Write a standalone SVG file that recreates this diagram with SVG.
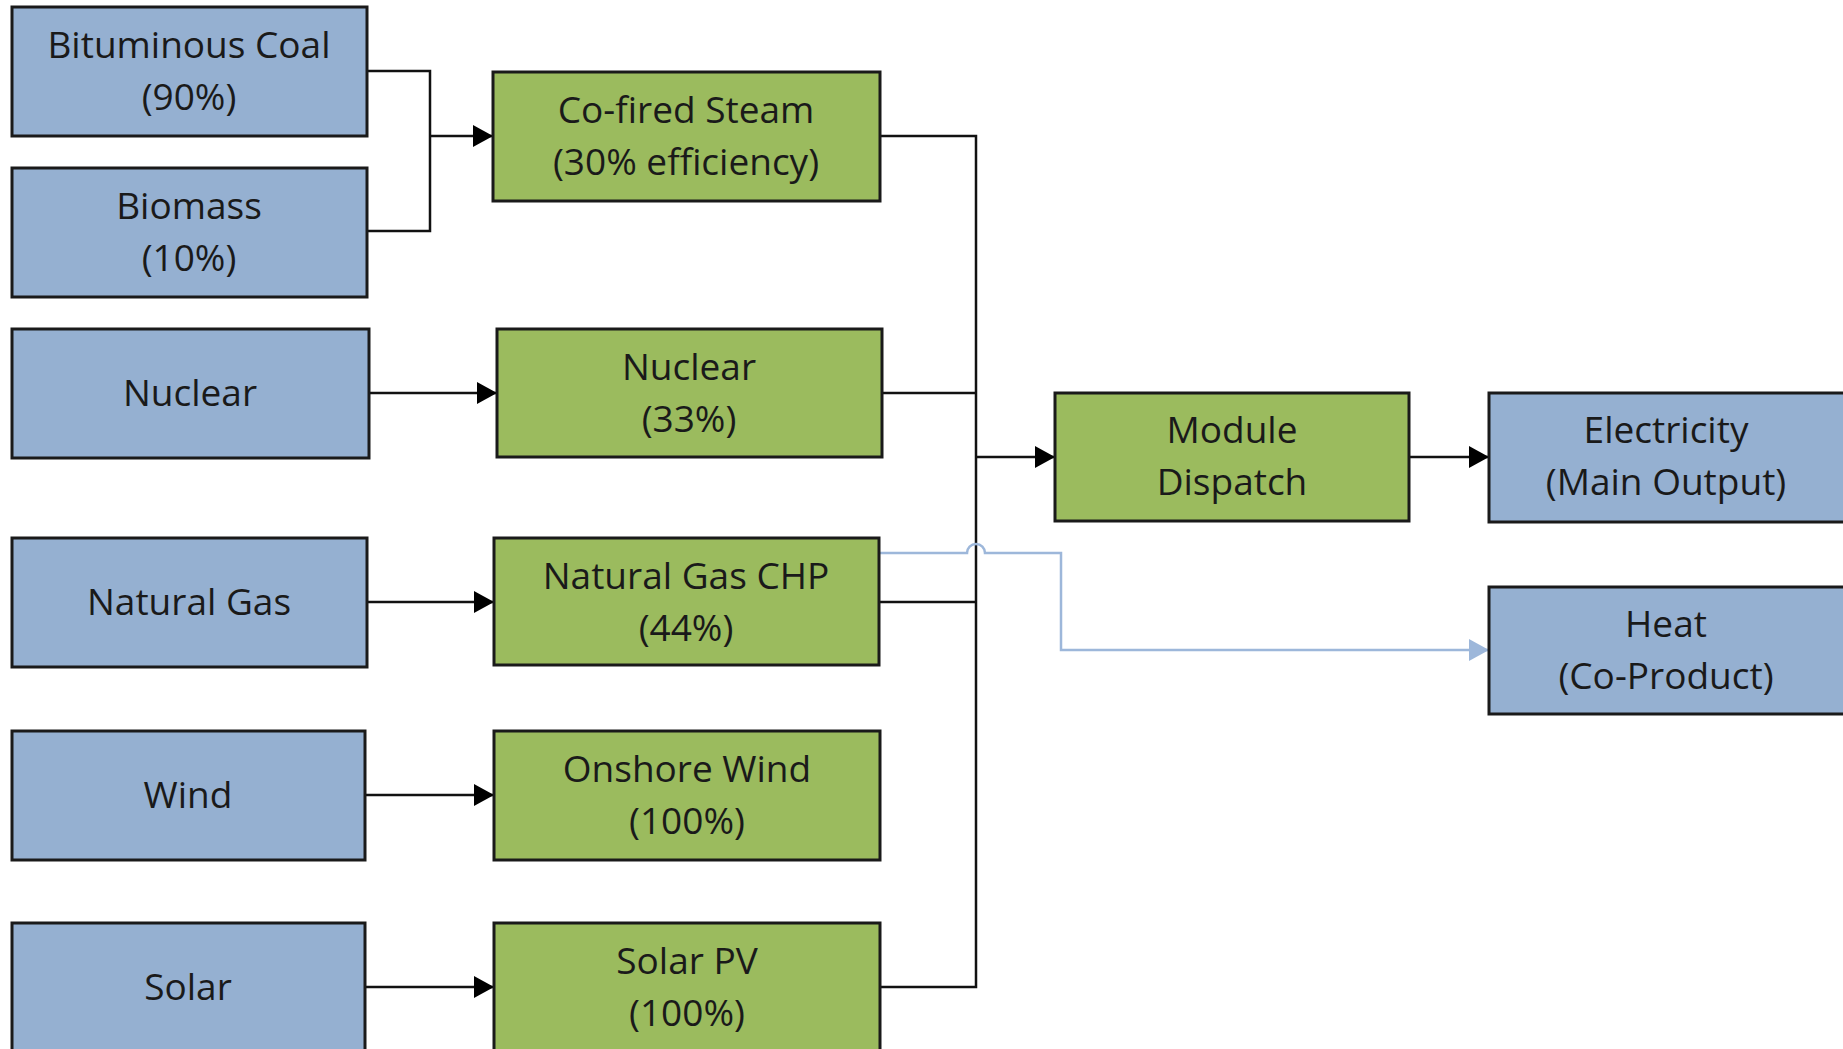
<svg xmlns="http://www.w3.org/2000/svg" width="1843" height="1049" viewBox="0 0 1843 1049">
<style>
.blue{fill:#95b0d1;stroke:#1a1a1a;stroke-width:3}
.green{fill:#9bbb5e;stroke:#1a1a1a;stroke-width:3}
text{font-family:"Open Sans","Noto Sans","Liberation Sans",sans-serif;font-size:37px;fill:#1a1a1a;text-anchor:middle}
.ln{fill:none;stroke:#111;stroke-width:2.5}
.bl{fill:none;stroke:#9db7da;stroke-width:2.5}
</style>
<defs>
<marker id="ah" markerUnits="userSpaceOnUse" markerWidth="20" markerHeight="22" refX="20" refY="11" orient="auto"><path d="M0,0 L20,11 L0,22 z" fill="#000"/></marker>
<marker id="ahb" markerUnits="userSpaceOnUse" markerWidth="20" markerHeight="22" refX="20" refY="11" orient="auto"><path d="M0,0 L20,11 L0,22 z" fill="#9db7da"/></marker>
</defs>
<rect width="1843" height="1049" fill="#fff"/>
<g id="connectors">
<path class="ln" d="M367,71 H430 V231 H367"/>
<path class="ln" d="M430,136 H493" marker-end="url(#ah)"/>
<path class="ln" d="M369,393 H497" marker-end="url(#ah)"/>
<path class="ln" d="M367,602 H494" marker-end="url(#ah)"/>
<path class="ln" d="M365,795 H494" marker-end="url(#ah)"/>
<path class="ln" d="M365,987 H494" marker-end="url(#ah)"/>
<path class="ln" d="M880,136 H976 V987 H880"/>
<path class="ln" d="M882,393 H976"/>
<path class="ln" d="M879,602 H976"/>
<path class="ln" d="M976,457 H1055" marker-end="url(#ah)"/>
<path class="ln" d="M1409,457 H1489" marker-end="url(#ah)"/>
<path class="bl" d="M879,553 H967 A9,9 0 0 1 985,553 H1061 V650 H1489" marker-end="url(#ahb)"/>
</g>
<g id="bituminous-coal"><rect class="blue" x="12" y="7" width="355" height="129"/><text x="189" y="58">Bituminous Coal</text><text x="189" y="110">(90%)</text></g>
<g id="biomass"><rect class="blue" x="12" y="168" width="355" height="129"/><text x="189" y="219">Biomass</text><text x="189" y="271">(10%)</text></g>
<g id="nuclear-src"><rect class="blue" x="12" y="329" width="357" height="129"/><text x="190" y="406">Nuclear</text></g>
<g id="natural-gas"><rect class="blue" x="12" y="538" width="355" height="129"/><text x="189" y="615">Natural Gas</text></g>
<g id="wind"><rect class="blue" x="12" y="731" width="353" height="129"/><text x="188" y="808">Wind</text></g>
<g id="solar"><rect class="blue" x="12" y="923" width="353" height="129"/><text x="188" y="1000">Solar</text></g>
<g id="co-fired-steam"><rect class="green" x="493" y="72" width="387" height="129"/><text x="686" y="123">Co-fired Steam</text><text x="686" y="175">(30% efficiency)</text></g>
<g id="nuclear-plant"><rect class="green" x="497" y="329" width="385" height="128"/><text x="689" y="380">Nuclear</text><text x="689" y="432">(33%)</text></g>
<g id="natural-gas-chp"><rect class="green" x="494" y="538" width="385" height="127"/><text x="686" y="589">Natural Gas CHP</text><text x="686" y="641">(44%)</text></g>
<g id="onshore-wind"><rect class="green" x="494" y="731" width="386" height="129"/><text x="687" y="782">Onshore Wind</text><text x="687" y="834">(100%)</text></g>
<g id="solar-pv"><rect class="green" x="494" y="923" width="386" height="129"/><text x="687" y="974">Solar PV</text><text x="687" y="1026">(100%)</text></g>
<g id="module-dispatch"><rect class="green" x="1055" y="393" width="354" height="128"/><text x="1232" y="443">Module</text><text x="1232" y="495">Dispatch</text></g>
<g id="electricity"><rect class="blue" x="1489" y="393" width="356" height="129"/><text x="1666" y="443">Electricity</text><text x="1666" y="495">(Main Output)</text></g>
<g id="heat"><rect class="blue" x="1489" y="587" width="356" height="127"/><text x="1666" y="637">Heat</text><text x="1666" y="689">(Co-Product)</text></g>
</svg>
